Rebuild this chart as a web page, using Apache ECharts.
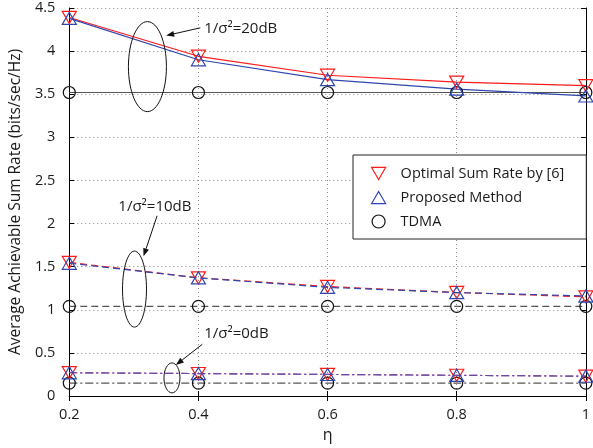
<!DOCTYPE html>
<html><head><meta charset="utf-8">
<script src="https://cdn.jsdelivr.net/npm/echarts@6/dist/echarts.min.js"></script>
<style>html,body{margin:0;padding:0;background:#fff}#c{width:593px;height:448px}</style>
</head><body><div id="c"></div>
<script>
const eta = [0.2, 0.4, 0.6, 0.8, 1.0];
const xTicks = ['0.2','0.4','0.6','0.8','1'];
const yTicks = ['0','0.5','1','1.5','2','2.5','3','3.5','4','4.5'];
// 1/sigma^2 = 20 dB
const opt20 = [4.39, 3.94, 3.72, 3.64, 3.60];
const prop20 = [4.38, 3.90, 3.67, 3.56, 3.48];
const tdma20 = [3.52, 3.52, 3.52, 3.52, 3.52];
// 10 dB
const opt10 = [1.55, 1.37, 1.27, 1.20, 1.15];
const prop10 = [1.54, 1.37, 1.26, 1.20, 1.16];
const tdma10 = [1.04, 1.04, 1.04, 1.04, 1.04];
// 0 dB
const opt0 = [0.27, 0.26, 0.25, 0.24, 0.23];
const prop0 = [0.27, 0.26, 0.25, 0.24, 0.23];
const tdma0 = [0.15, 0.15, 0.15, 0.15, 0.15];

const names = ['Optimal Sum Rate by [6]', 'Proposed Method', 'TDMA'];
// annotations: [label, textX, textY, arrowFromX, arrowFromY, arrowToX, arrowToY, ellipseCx, ellipseCy]
const notes = [
  ['1/σ²=20dB', 0.409, 4.26, 0.403, 4.27, 0.350, 4.18, 0.321, 3.82],
  ['1/σ²=10dB', 0.276, 2.20, 0.336, 2.09, 0.315, 1.62, 0.301, 1.24],
  ['1/σ²=0dB', 0.409, 0.72, 0.406, 0.60, 0.365, 0.36, 0.359, 0.21]
];
const ellR = [[19, 45], [12, 38], [8, 15]];

const RED = '#ff1a1a', BLUE = '#2f46b0', GRAY = '#555555', TXT = '#1a1a1a';
const downTri = 'path://M0,0 L10,0 L5,8.66 Z';
const upTri = 'path://M5,0 L10,8.66 L0,8.66 Z';
const font = '"Open Sans", "Liberation Sans", sans-serif';

function pts(v) { return eta.map((x, i) => [x, v[i]]); }
function mk(name, data, color, lineColor, symbol, size, dash) {
  return {
    type: 'line', name, data: pts(data), symbol, symbolSize: size, symbolKeepAspect: true,
    showAllSymbol: true, animation: false, z: 3,
    lineStyle: { color: lineColor, width: 1.2, type: dash },
    itemStyle: { color: 'rgba(0,0,0,0)', borderColor: color, borderWidth: 1.2 },
    emphasis: { disabled: true }
  };
}
const series = [
  mk(names[2], tdma20, '#111', GRAY, 'circle', 12, 'solid'),
  mk(names[0], opt20, RED, RED, downTri, 14, 'solid'),
  mk(names[1], prop20, BLUE, BLUE, upTri, 14, 'solid'),
  mk(names[2], tdma10, '#111', GRAY, 'circle', 12, [7, 4]),
  mk(names[0], opt10, RED, RED, downTri, 14, [7, 4]),
  mk(names[1], prop10, BLUE, BLUE, upTri, 14, [7, 4]),
  mk(names[2], tdma0, '#111', GRAY, 'circle', 12, [8, 3, 2, 3]),
  mk(names[0], opt0, RED, '#9b3f8f', downTri, 14, [8, 3, 2, 3]),
  mk(names[1], prop0, BLUE, '#6a4aa8', upTri, 14, [8, 3, 2, 3])
];

const axisCommon = {
  axisLine: { show: true, lineStyle: { color: '#000', width: 1 } },
  axisTick: { show: true, inside: true, length: 5, lineStyle: { color: '#000' } }
};
const chart = echarts.init(document.getElementById('c'), null, { renderer: 'canvas' });
chart.setOption({
  animation: false,
  backgroundColor: '#fff',
  textStyle: { fontFamily: font },
  grid: { left: 69, right: 2, top: 8, bottom: 51, containLabel: false },
  xAxis: [
    Object.assign({
      type: 'value', min: 0.2, max: 1, interval: 0.2, position: 'bottom',
      name: 'η', nameLocation: 'middle', nameGap: 31,
      nameTextStyle: { fontSize: 16, color: TXT, fontFamily: font },
      axisLabel: { margin: 11, fontSize: 14.5, color: TXT, fontFamily: font,
        formatter: v => xTicks[Math.round((v - 0.2) / 0.2)] },
      splitLine: { show: true, lineStyle: { type: [1, 3], color: '#888', width: 1 } }
    }, axisCommon),
    Object.assign({
      type: 'value', min: 0.2, max: 1, interval: 0.2, position: 'top',
      axisLabel: { show: false }, splitLine: { show: false }
    }, axisCommon)
  ],
  yAxis: [
    Object.assign({
      type: 'value', min: 0, max: 4.5, interval: 0.5, position: 'left',
      name: 'Average Achievable Sum Rate (bits/sec/Hz)', nameLocation: 'middle', nameGap: 44,
      nameTextStyle: { fontSize: 15.5, color: TXT, fontFamily: font },
      axisLabel: { margin: 14, fontSize: 14.5, color: TXT, fontFamily: font,
        formatter: v => yTicks[Math.round(v / 0.5)] },
      splitLine: { show: true, lineStyle: { type: [1, 3], color: '#888', width: 1 } }
    }, axisCommon),
    Object.assign({
      type: 'value', min: 0, max: 4.5, interval: 0.5, position: 'right',
      axisLabel: { show: false }, splitLine: { show: false }
    }, axisCommon)
  ],
  legend: {
    left: 353, top: 155, orient: 'vertical',
    backgroundColor: '#fff', borderColor: '#222', borderWidth: 1,
    padding: [11, 22, 10, 18], itemGap: 9, itemWidth: 14, itemHeight: 13,
    textStyle: { fontSize: 14.5, color: TXT, fontFamily: font, padding: [0, 0, 0, 10] },
    selectedMode: false,
    data: [
      { name: names[0], icon: downTri, itemStyle: { color: 'rgba(0,0,0,0)', borderColor: RED, borderWidth: 1.2 } },
      { name: names[1], icon: upTri, itemStyle: { color: 'rgba(0,0,0,0)', borderColor: BLUE, borderWidth: 1.2 } },
      { name: names[2], icon: 'circle', itemStyle: { color: 'rgba(0,0,0,0)', borderColor: '#111', borderWidth: 1.2 } }
    ]
  },
  series
});

function px(x, y) { return chart.convertToPixel({ gridIndex: 0 }, [x, y]); }
const g = [];
notes.forEach((n, i) => {
  const t = px(n[1], n[2]), a = px(n[3], n[4]), b = px(n[5], n[6]), e = px(n[7], n[8]);
  g.push({ type: 'text', x: t[0], y: t[1], z: 10,
    style: { text: n[0], fontSize: 15, fill: TXT, fontFamily: font, verticalAlign: 'middle', align: 'left' } });
  const dx = b[0] - a[0], dy = b[1] - a[1], L = Math.hypot(dx, dy), ux = dx / L, uy = dy / L;
  const hl = 8, hw = 3;
  const bx = b[0] - ux * hl, by = b[1] - uy * hl;
  g.push({ type: 'line', z: 10, shape: { x1: a[0], y1: a[1], x2: bx, y2: by }, style: { stroke: '#111', lineWidth: 1 } });
  g.push({ type: 'polygon', z: 10, shape: { points: [[b[0], b[1]], [bx - uy * hw, by + ux * hw], [bx + uy * hw, by - ux * hw]] },
    style: { fill: '#111' } });
  g.push({ type: 'ellipse', z: 10, shape: { cx: e[0], cy: e[1], rx: ellR[i][0], ry: ellR[i][1] },
    style: { fill: 'none', stroke: '#111', lineWidth: 1 } });
});
chart.setOption({ graphic: g });
</script></body></html>
